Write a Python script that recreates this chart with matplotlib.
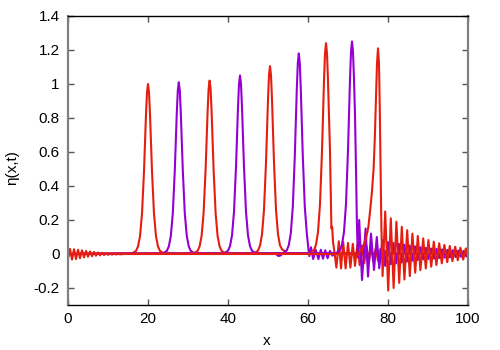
import matplotlib
matplotlib.use("Agg")
import matplotlib.pyplot as plt

plt.rcParams["font.family"] = ["Liberation Sans", "DejaVu Sans"]

RED = "#e51e10"
PURPLE = "#9400d3"

# snapshots of eta(x, t) (alternating colours)
c1_x = [0, 16, 17, 17.5, 18, 18.5, 19, 19.25, 19.5, 19.75, 20, 20.25, 20.5, 20.75, 21, 21.5, 22, 22.5, 23, 24, 100]
c1_y = [0, .003, .018, .044, .104, .236, .487, .654, .822, .951, 1.0, .951, .822, .654, .487, .236, .104, .044, .018, .003, 0]

c2_x = [0, 23.7, 24.7, 25.2, 25.7, 26.2, 26.7, 26.95, 27.2, 27.45, 27.7, 27.95, 28.2, 28.45, 28.7, 29.2, 29.7, 30.2, 30.7, 31.7, 100]
c2_y = [0, .003, .018, .044, .105, .238, .492, .661, .830, .961, 1.01, .961, .830, .661, .492, .238, .105, .044, .018, .003, 0]

c3_x = [0, 31.4, 32.4, 32.9, 33.4, 33.9, 34.4, 34.65, 34.9, 35.15, 35.4, 35.65, 35.9, 36.15, 36.4, 36.9, 37.4, 37.9, 38.4, 39.4, 100]
c3_y = [0, .003, .018, .045, .106, .241, .497, .667, .838, .970, 1.02, .970, .838, .667, .497, .241, .106, .045, .018, .003, 0]

c4_x = [0, 39, 40, 40.5, 41, 41.5, 42, 42.25, 42.5, 42.75, 43, 43.25, 43.5, 43.75, 44, 44.5, 45, 45.5, 46, 47, 100]
c4_y = [0, .003, .019, .046, .109, .248, .511, .687, .863, .999, 1.05, .999, .863, .687, .511, .248, .109, .046, .019, .003, 0]

c5_x = [0, 46.5, 47.5, 48, 48.5, 49, 49.5, 49.75, 50, 50.25, 50.5, 50.75, 51, 51.25, 51.5, 52, 52.5, 53, 53.5, 54, 54.6, 100]
c5_y = [0, .003, .020, .049, .115, .261, .538, .723, .908, 1.051, 1.105, 1.051, .908, .723, .538, .261, .115, .05, .028, .02, .003, 0]

c6_x = [0, 52, 52.6, 53.2, 53.7, 54.7, 55.2, 55.7, 56.2, 56.7, 56.95, 57.2, 57.45, 57.7, 57.95, 58.2, 58.45,
        58.7, 59.2, 59.7, 60.1, 60.35, 60.75, 61.3, 61.9, 62.6, 63.2, 63.75, 64.3, 64.9, 65.5, 66.1, 66.6, 100]
c6_y = [0, 0, -.012, -.008, .004, .021, .052, .122, .278, .575, .772, .970, 1.122, 1.18, 1.122, .970, .772,
        .575, .278, .122, .03, -.012, .04, -.03, .026, -.03, .025, -.028, .022, -.025, .018, -.01, 0, 0]

c7_x = [0, 60.5, 61.5, 62, 62.5, 63, 63.5, 63.75, 64, 64.25, 64.5, 64.75, 65, 65.25, 65.5, 65.7, 65.85, 66.05,
        66.25, 66.5, 67.1, 67.7, 68.25, 68.8, 69.4, 70, 70.6, 71.2, 71.75, 72.35, 72.9, 73.5, 74.05, 74.65,
        75.2, 75.8, 76.35, 76.95, 77.5, 78.1, 78.65, 79.2, 79.8, 80.4, 100]
c7_y = [0, .004, .022, .055, .129, .293, .604, .811, 1.019, 1.179, 1.24, 1.179, 1.019, .811, .604, .35, .15, .16,
        .07, .03, -.08, .075, -.085, .07, -.085, .065, -.08, .06, -.07, .055, -.065, .05, -.055, .045,
        -.05, .04, -.045, .035, -.04, .03, -.03, .02, -.015, 0, 0]

c8_x = [0, 67, 68, 68.5, 69, 69.5, 70, 70.25, 70.5, 70.75, 71, 71.25, 71.5, 71.75, 72, 72.25, 72.5, 72.8,
        73.5, 74.4, 75.0, 75.75, 76.5, 77.2, 77.8, 78.6, 79.3, 80.0, 80.7, 81.35, 82.0, 82.7, 83.4, 84.05,
        84.7, 85.4, 86.1, 86.75, 87.4, 88.1, 88.8, 89.45, 90.1, 90.8, 91.5, 92.15, 92.8, 93.5, 94.2, 94.85,
        95.5, 96.2, 96.9, 97.55, 98.2, 98.9, 99.6, 100]
c8_y = [0, .004, .023, .055, .13, .295, .609, .818, 1.028, 1.189, 1.25, 1.189, 1.028, .818, .5, .15, -.02, .2,
        -.153, .15, -.133, .12, -.094, .10, -.084, .08, -.07, .07, -.06, .065, -.055, .06, -.05, .055,
        -.045, .05, -.04, .045, -.036, .04, -.032, .036, -.03, .032, -.027, .03, -.024, .027, -.022, .024,
        -.02, .022, -.018, .02, -.016, .018, -.015, 0]

c9_x = [0, .5, 1, 1.5, 2, 2.5, 3, 3.5, 4, 4.5, 5, 5.5, 6, 6.5, 7, 7.5, 8, 8.5, 9, 9.5, 10, 10.5, 11, 11.5,
        12, 12.5, 13, 14, 71, 72.2, 73, 73.8, 74.5, 75.1, 75.6, 76.0, 76.4, 76.7, 77.0, 77.25, 77.5, 77.75,
        77.95, 78.15, 78.35, 78.65, 79.3, 80.05, 80.7, 81.4, 82.1, 82.8, 83.45, 84.1, 84.8, 85.45, 86.1,
        86.8, 87.45, 88.1, 88.8, 89.45, 90.1, 90.8, 91.45, 92.1, 92.8, 93.45, 94.1, 94.8, 95.45, 96.1,
        96.8, 97.45, 98.1, 98.8, 99.45, 100]
c9_y = [-.03, .03, -.033, .028, -.03, .025, -.025, .022, -.02, .018, -.016, .015, -.013, .012, -.01, .009,
        -.008, .007, -.006, .005, -.005, .004, -.004, .003, -.003, .002, -.002, 0, 0, -.016, .015, .045,
        .09, .16, .27, .37, .5, .68, .92, 1.12, 1.21, 1.12, .85, .5, .15, -.13, .25, -.215, .21, -.2, .19,
        -.17, .16, -.15, .14, -.13, .12, -.11, .106, -.095, .092, -.085, .082, -.075, .072, -.065, .063,
        -.055, .053, -.048, .047, -.042, .043, -.037, .037, -.033, .033, -.01]

curves = [(c1_x, c1_y, RED), (c2_x, c2_y, PURPLE), (c3_x, c3_y, RED), (c4_x, c4_y, PURPLE),
          (c5_x, c5_y, RED), (c6_x, c6_y, PURPLE), (c7_x, c7_y, RED), (c8_x, c8_y, PURPLE),
          (c9_x, c9_y, RED)]

x_ticks = [0, 20, 40, 60, 80, 100]
y_ticks = [-0.2, 0, 0.2, 0.4, 0.6, 0.8, 1, 1.2, 1.4]
y_tick_labels = ["-0.2", "0", "0.2", "0.4", "0.6", "0.8", "1", "1.2", "1.4"]

fig = plt.figure(figsize=(5, 3.5), dpi=100)
ax = fig.add_axes([0.136, 0.1286, 0.8, 0.8257])

for xs, ys, col in curves:
    ax.plot(xs, ys, color=col, lw=1.5, solid_joinstyle="round")

ax.set_xlim(0, 100)
ax.set_ylim(-0.3, 1.4)
ax.set_xticks(x_ticks)
ax.set_yticks(y_ticks)
ax.set_yticklabels(y_tick_labels)
ax.tick_params(direction="in", length=4, width=1, color="#555555", labelsize=11,
               top=True, right=True, pad=6)
ax.tick_params(axis="x", pad=5)

for side in ["top", "bottom"]:
    ax.spines[side].set_color("black")
    ax.spines[side].set_linewidth(1)
for side in ["left", "right"]:
    ax.spines[side].set_color("#808080")
    ax.spines[side].set_linewidth(1.6)

fig.text(0.534, 1 - 341 / 350, "x", fontsize=11, ha="center", va="center")
fig.text(0.024, 0.52, "η(x,t)", fontsize=11, ha="center", va="center", rotation=90)

fig.savefig("out.png", dpi=100)
